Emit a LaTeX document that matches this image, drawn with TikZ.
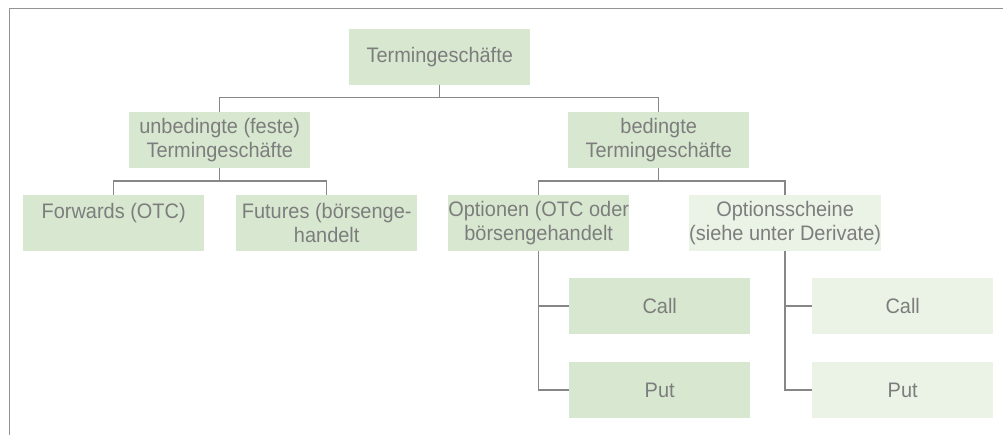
\documentclass[tikz,border=0pt]{standalone}
\usepackage{fontspec}
\setmainfont[FakeStretch=0.95]{Liberation Sans}
\definecolor{txt}{RGB}{125,125,125}
\definecolor{ln}{RGB}{135,135,135}
\definecolor{gA}{RGB}{216,232,208}
\definecolor{gB}{RGB}{234,243,230}
\begin{document}
\begin{tikzpicture}[x=1pt,y=-1pt,
  box/.style={rectangle, fill=gA, draw=none, minimum width=181pt, minimum height=55.5pt,
    inner sep=0pt, anchor=north west, align=center, text=txt,
    font=\fontsize{21}{24}\selectfont},
  lbox/.style={box, fill=gB},
  conn/.style={draw=ln, line width=1.4pt}]
\useasboundingbox (0,0) rectangle (1003,435);
\draw[draw=ln!90, line width=1.5pt] (1003,8.5) -- (9.5,8.5) -- (9.5,435);
\node[box] (root) at (349,29) {Termingeschäfte};
\node[box] (unbed) at (129,112) {unbedingte (feste)\\Termingeschäfte};
\node[box] (bed) at (568,112) {bedingte\\Termingeschäfte};
\node[box] (fwd) at (23,195) {Forwards (OTC)\\~};
\node[box] (fut) at (236,195) {Futures (börsenge-\\handelt};
\node[box] (opt) at (448,195) {Optionen (OTC oder\\börsengehandelt};
\node[lbox] (os) at (689,195) {Optionsscheine\\(siehe unter Derivate)};
\node[box] (call1) at (569,278) {Call};
\node[box] (put1) at (569,362) {Put};
\node[lbox] (call2) at (812,278) {Call};
\node[lbox] (put2) at (812,362) {Put};
\draw[conn] (root.south) -- ++(0,12.5) -| (unbed.north);
\draw[conn] (root.south) -- ++(0,12.5) -| (bed.north);
\draw[conn] (unbed.south) -- ++(0,13) -| (fwd.north);
\draw[conn] (unbed.south) -- ++(0,13) -| (fut.north);
\draw[conn] (bed.south) -- ++(0,13) -| (opt.north);
\draw[conn] (bed.south) -- ++(0,13) -| (os.north);
\draw[conn] (opt.south) |- (call1.west);
\draw[conn] (opt.south) |- (put1.west);
\draw[conn] (os.south) |- (call2.west);
\draw[conn] (os.south) |- (put2.west);
\end{tikzpicture}
\end{document}
